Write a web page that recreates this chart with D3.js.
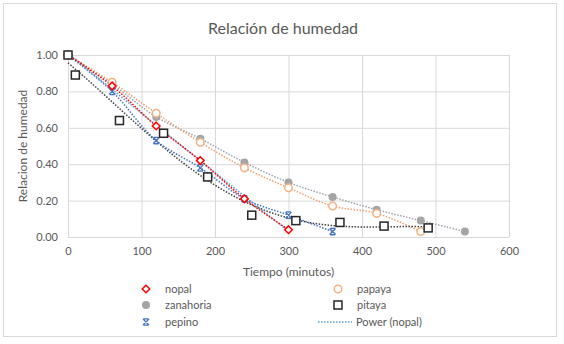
<!DOCTYPE html>
<html><head><meta charset="utf-8">
<script src="https://cdn.jsdelivr.net/npm/d3@7"></script>
<style>body{margin:0;background:#fff}svg{display:block;font-family:Lato,"Open Sans",sans-serif}</style>
</head><body><svg id="c" width="564" height="344"></svg>
<script>
const xTicks = [0,100,200,300,400,500,600];
const yTicks = [0,0.2,0.4,0.6,0.8,1.0];
const nopalT = [0,60,120,180,240,300];
const nopalY = [1.00,0.83,0.61,0.42,0.21,0.04];
const papayaT = [0,60,120,180,240,300,360,420,480];
const papayaY = [1.00,0.85,0.68,0.52,0.38,0.27,0.17,0.13,0.03];
const zanahoriaT = [0,60,120,180,240,300,360,420,480,540];
const zanahoriaY = [1.00,0.84,0.66,0.54,0.41,0.30,0.22,0.15,0.09,0.03];
const pitayaT = [0,10,70,130,190,250,310,370,430,490];
const pitayaY = [1.00,0.89,0.64,0.57,0.33,0.12,0.09,0.08,0.06,0.05];
const pepinoT = [0,60,120,180,240,300,360];
const pepinoY = [1.00,0.80,0.53,0.38,0.21,0.12,0.03];

const svg = d3.select("#c");
svg.append("rect").attr("x",3.5).attr("y",3.5).attr("width",553).attr("height",333).attr("fill","#fff").attr("stroke","#d9d9d9");
const x = d3.scaleLinear().domain([0,600]).range([68,509]);
const y = d3.scaleLinear().domain([0,1]).range([237,55]);
const txt = "#595959";

svg.append("text").attr("x",283).attr("y",34).attr("text-anchor","middle").attr("font-size",16).attr("fill",txt).text("Relación de humedad");

// grid
svg.append("g").selectAll("line").data(yTicks).join("line")
 .attr("x1",x(0)).attr("x2",x(600)).attr("y1",d=>y(d)+0.5).attr("y2",d=>y(d)+0.5).attr("stroke","#d9d9d9");
svg.append("g").selectAll("line").data(xTicks).join("line")
 .attr("y1",y(0)).attr("y2",y(1)).attr("x1",d=>x(d)+0.5).attr("x2",d=>x(d)+0.5).attr("stroke","#d9d9d9");

const ax = svg.append("g").attr("transform",`translate(0,${y(0)})`).call(d3.axisBottom(x).tickValues(xTicks).tickSize(0).tickPadding(10));
ax.select(".domain").remove();
ax.selectAll("text").attr("fill",txt).attr("font-size",11).attr("font-family","Lato,sans-serif");
const ay = svg.append("g").attr("transform",`translate(${x(0)},0)`).call(d3.axisLeft(y).tickValues(yTicks).tickFormat(d3.format(".2f")).tickSize(0).tickPadding(10));
ay.select(".domain").remove();
ay.selectAll("text").attr("fill",txt).attr("font-size",11).attr("font-family","Lato,sans-serif");

svg.append("text").attr("x",x(300)).attr("y",276).attr("text-anchor","middle").attr("font-size",12).attr("fill",txt).text("Tiempo (minutos)");
svg.append("text").attr("transform",`translate(27,${(y(0)+y(1))/2}) rotate(-90)`).attr("text-anchor","middle").attr("font-size",12).attr("fill",txt).text("Relacion de humedad");

function zip(t,v){return t.map((d,i)=>[d,v[i]]);}
function polyfit(t,v,deg){
  const s=100;
  const n=deg+1; const A=[]; 
  for(let i=0;i<n;i++){A.push(new Array(n+1).fill(0));}
  t.forEach((ti,k)=>{const u=ti/s;for(let i=0;i<n;i++){for(let j=0;j<n;j++)A[i][j]+=Math.pow(u,i+j);A[i][n]+=v[k]*Math.pow(u,i);}});
  for(let i=0;i<n;i++){let m=i;for(let r=i+1;r<n;r++)if(Math.abs(A[r][i])>Math.abs(A[m][i]))m=r;[A[i],A[m]]=[A[m],A[i]];
    for(let r=0;r<n;r++){if(r===i)continue;const f=A[r][i]/A[i][i];for(let c=i;c<=n;c++)A[r][c]-=f*A[i][c];}}
  const co=A.map((r,i)=>r[n]/r[i]);
  return tt=>co.reduce((acc,c,i)=>acc+c*Math.pow(tt/s,i),0);
}
const line = d3.line().x(d=>x(d[0])).y(d=>y(d[1])).curve(d3.curveCatmullRom);
function dotted(data,color,w){svg.append("path").attr("d",line(data)).attr("fill","none").attr("stroke",color).attr("stroke-width",w||1.5).attr("stroke-dasharray","1.5,1.5");}

const cNopal="#ff0000", cZan="#a5a5a5", cPit="#262626", cPep="#4472c4", cPow="#5b9bd5";
dotted(zip(zanahoriaT,zanahoriaY),"#9aa3ad");
dotted(zip(papayaT,papayaY),"#f0a070");
const fp = polyfit(pitayaT,pitayaY,4);
dotted(d3.range(0,491,5).map(t=>[t,fp(t)]),"#404040");
dotted(zip(pepinoT,pepinoY),cPep);
const fn = polyfit(nopalT,nopalY,2);
dotted(d3.range(0,301,5).map(t=>[t,Math.max(0,fn(t))]),cPow);
dotted(zip(nopalT,nopalY),cNopal);

function marker(g,type){
  if(type==="diamond") g.append("path").attr("d","M0,-3.8L3.8,0L0,3.8L-3.8,0Z").attr("fill","#fff").attr("stroke",cNopal).attr("stroke-width",1.5);
  if(type==="circleO") g.append("circle").attr("r",3.8).attr("fill","#fff").attr("stroke","#f4b183").attr("stroke-width",1.5);
  if(type==="circleF") g.append("circle").attr("r",4).attr("fill",cZan);
  if(type==="square") g.append("rect").attr("x",-4).attr("y",-4).attr("width",8).attr("height",8).attr("fill","#fff").attr("stroke",cPit).attr("stroke-width",1.5);
  if(type==="star") g.append("path").attr("d","M-3,-3L3,3M-3,3L3,-3M-2.5,-3.2L2.5,-3.2M-2.5,3.2L2.5,3.2").attr("stroke",cPep).attr("stroke-width",1.3).attr("fill","none");
}
function pts(t,v,type){
  svg.append("g").selectAll("g").data(zip(t,v)).join("g").attr("transform",d=>`translate(${x(d[0])},${y(d[1])})`).each(function(){marker(d3.select(this),type);});
}
pts(zanahoriaT,zanahoriaY,"circleF");
pts(papayaT,papayaY,"circleO");
pts(pepinoT,pepinoY,"star");
pts(nopalT,nopalY,"diamond");
pts(pitayaT,pitayaY,"square");

// legend
const leg = [
 {n:"nopal",t:"diamond",x:146,y:289},{n:"papaya",t:"circleO",x:338,y:289},
 {n:"zanahoria",t:"circleF",x:146,y:305},{n:"pitaya",t:"square",x:338,y:305},
 {n:"pepino",t:"star",x:146,y:322},{n:"Power (nopal)",t:"line",x:338,y:322}
];
leg.forEach(l=>{
  const g=svg.append("g").attr("transform",`translate(${l.x},${l.y})`);
  if(l.t==="line") g.append("line").attr("x1",-20).attr("x2",14).attr("stroke",cPow).attr("stroke-width",1.5).attr("stroke-dasharray","1.5,1.5");
  else marker(g,l.t);
  g.append("text").attr("x",l.t==="line"?18:19).attr("y",4).attr("font-size",11).attr("fill",txt).text(l.n);
});
</script></body></html>
